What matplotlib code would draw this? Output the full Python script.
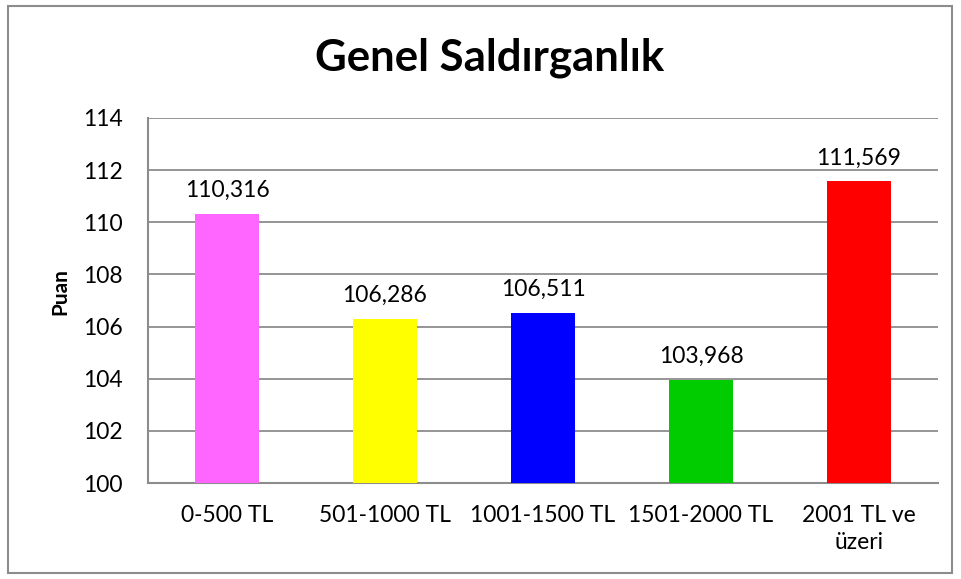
import matplotlib
matplotlib.use("Agg")
import matplotlib.pyplot as plt
from matplotlib.patches import Rectangle

categories = ["0-500 TL", "501-1000 TL", "1001-1500 TL", "1501-2000 TL", "2001 TL ve\nüzeri"]
values = [110.316, 106.286, 106.511, 103.968, 111.569]
value_labels = ["110,316", "106,286", "106,511", "103,968", "111,569"]
colors = ["#FF66FF", "#FFFF00", "#0000FF", "#00CC00", "#FF0000"]
yticks = [100, 102, 104, 106, 108, 110, 112, 114]

plt.rcParams['font.family'] = ['Lato', 'DejaVu Sans']

fig = plt.figure(figsize=(9.61, 5.79), dpi=100)
ax = fig.add_axes([148/961, 1-483/579, (938-148)/961, (483-118)/579])

x = list(range(len(categories)))
ax.bar(x, [v - 100 for v in values], bottom=100, width=0.405, color=colors, zorder=3)
for xi, v, lab in zip(x, values, value_labels):
    ax.text(xi, v + 0.5, lab, ha='center', va='bottom', fontsize=16.5, zorder=4)

ax.set_xlim(-0.5, len(categories) - 0.5)
ax.set_ylim(100, 114)
ax.set_yticks(yticks)
ax.set_yticklabels([str(t) for t in yticks], fontsize=16.5)
ax.set_xticks(x)
ax.set_xticklabels(categories, fontsize=16.5, linespacing=1.35)
ax.tick_params(axis='x', length=0, pad=16)
ax.tick_params(axis='y', length=0, pad=18)
ax.grid(axis='y', color='#8c8c8c', linewidth=1.3, zorder=0)
for s in ['top', 'right']:
    ax.spines[s].set_visible(False)
for s in ['left', 'bottom']:
    ax.spines[s].set_color('#8c8c8c')
    ax.spines[s].set_linewidth(1.5)

ax.set_ylabel("Puan", fontsize=15, fontweight='bold', va='center')
ax.yaxis.set_label_coords((60-148)/790, (483-292)/365)
fig.text(490/961, 1-58/579, "Genel Saldırganlık", ha='center', va='center', fontsize=31.5, fontweight='bold')

fig.patches.append(Rectangle((8/961, 1-573/579), (952-8)/961, (573-6)/579, transform=fig.transFigure,
                             fill=False, edgecolor='#8c8c8c', linewidth=1.5))

fig.savefig("out.png", dpi=100)
